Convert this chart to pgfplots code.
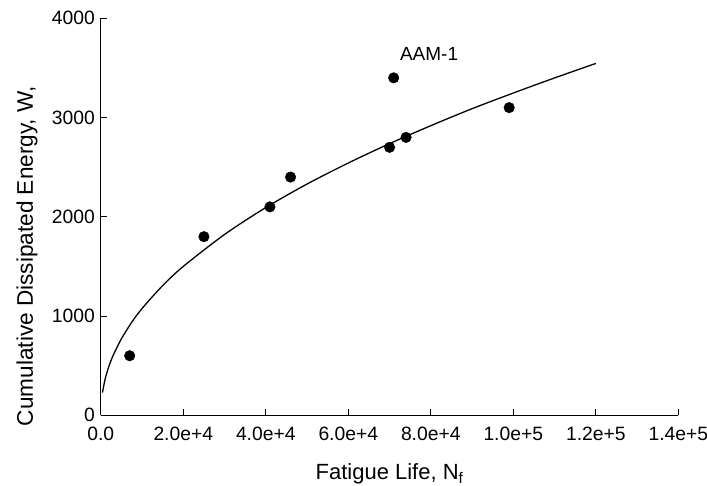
\documentclass[border=0pt]{standalone}
\usepackage{pgfplots}
\pgfplotsset{compat=1.18}
\usepackage{fontspec}
\setmainfont{Liberation Sans}
\begin{document}
\begin{tikzpicture}
\begin{axis}[
  scale only axis,
  width=577.5pt, height=397pt,
  xmin=0, xmax=140000, ymin=0, ymax=4000,
  axis x line*=bottom, axis y line*=left,
  axis line style={line width=0.9pt},
  tick align=inside,
  major tick length=6pt,
  tick style={line width=0.9pt, black},
  xtick={0,20000,40000,60000,80000,100000,120000,140000},
  xticklabels={0.0,2.0e+4,4.0e+4,6.0e+4,8.0e+4,1.0e+5,1.2e+5,1.4e+5},
  ytick={0,1000,2000,3000,4000},
  yticklabels={0,1000,2000,3000,4000},
  /pgf/number format/assume math mode=true,
  scaled x ticks=false,
  tick label style={font=\fontsize{19.3}{21}\selectfont},
  xticklabel style={yshift=-8pt},
  yticklabel style={xshift=-2.5pt},
  xlabel={Fatigue Life, N\textsubscript{f}},
  ylabel={Cumulative Dissipated Energy, W,},
  xlabel style={font=\fontsize{22}{24}\selectfont, at={(axis description cs:0.5,0)}, anchor=base, yshift=-64.7pt},
  ylabel style={font=\fontsize{22.6}{25}\selectfont, at={(axis description cs:-0.1178,0.401)}, anchor=base},
  clip=false,
]
\coordinate (ll) at (rel axis cs:0,0);
\coordinate (ur) at (rel axis cs:1,1);
\addplot[black, line width=1.3pt, no marks, smooth] coordinates {
(400,229) (1000,356) (1500,432) (2000,497) (3000,604) (5000,771) (7500,937)
(10000,1076) (15000,1307) (20000,1500) (30000,1822) (40000,2093) (50000,2330)
(60000,2542) (70000,2737) (80000,2918) (90000,3089) (100000,3247)
(110000,3399) (120000,3545)
};
\addplot[only marks, mark=*, mark size=5.3pt, black] coordinates {
(7000,600) (25000,1800) (41000,2100) (46000,2400) (70000,2700)
(71000,3400) (74000,2800) (99000,3100)
};
\node[anchor=base west, font=\fontsize{19}{21}\selectfont, inner sep=0pt] at (axis cs:72500,3578) {AAM-1};
\end{axis}
\pgfresetboundingbox
\path ([shift={(-100.8pt,-70.7pt)}]ll) rectangle ([shift={(28.7pt,18.3pt)}]ur);
\end{tikzpicture}
\end{document}
